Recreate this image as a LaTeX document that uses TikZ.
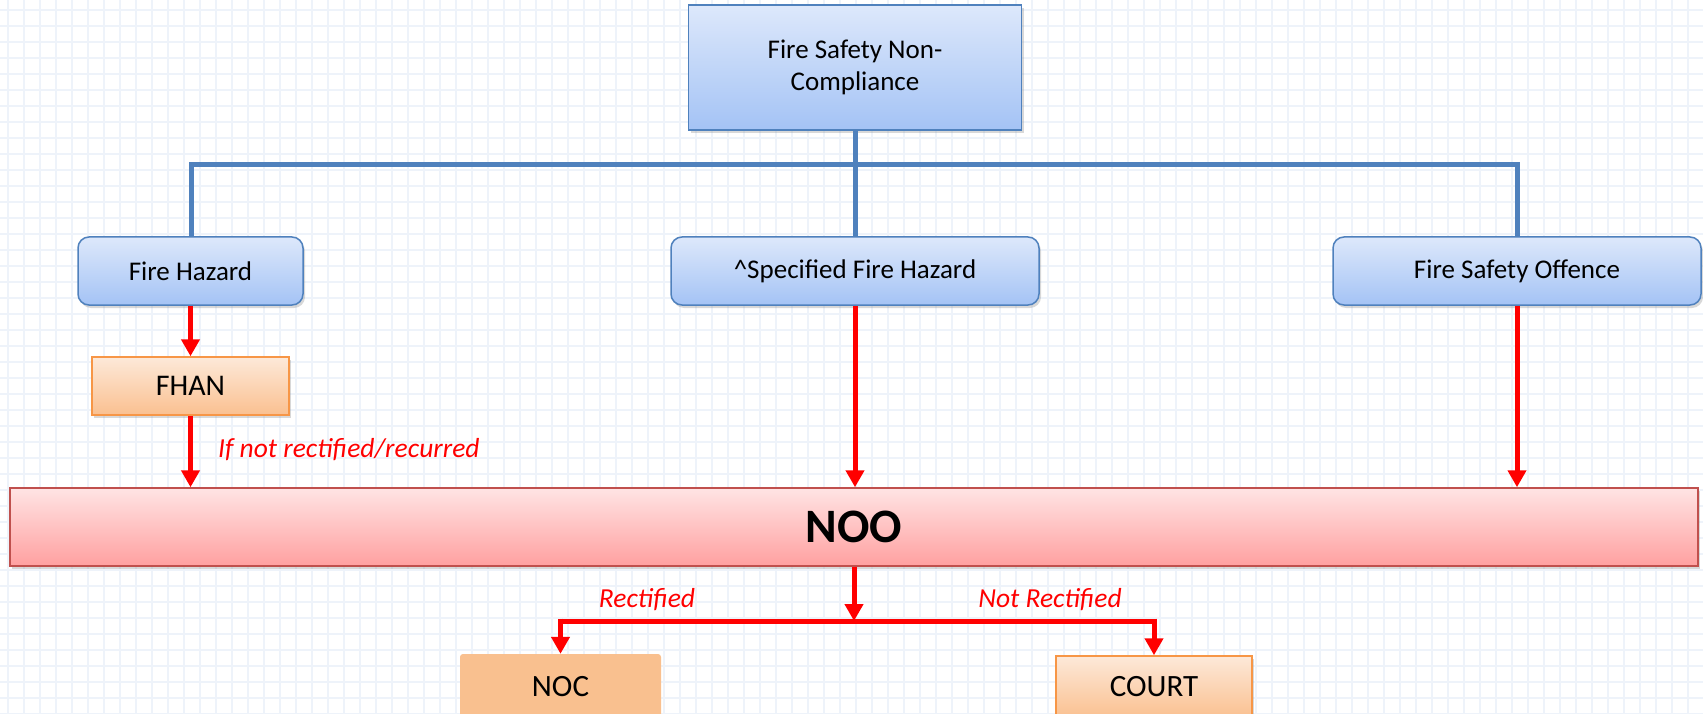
\documentclass[tikz,border=0pt]{standalone}
\usepackage{fontspec}
\setmainfont{Carlito}
\usetikzlibrary{arrows.meta,shadows}
\definecolor{gridc}{RGB}{238,243,250}
\definecolor{bluel}{RGB}{79,129,189}
\definecolor{bluetop}{RGB}{221,232,251}
\definecolor{bluebot}{RGB}{164,195,245}
\definecolor{orgdraw}{RGB}{247,150,70}
\definecolor{orgtop}{RGB}{253,233,217}
\definecolor{orgbot}{RGB}{250,192,144}
\definecolor{nocfill}{RGB}{249,192,143}
\definecolor{noodraw}{RGB}{192,80,77}
\definecolor{nootop}{RGB}{255,228,228}
\definecolor{noobot}{RGB}{255,160,160}
\definecolor{redc}{RGB}{255,0,0}
\tikzset{
  shad/.style={drop shadow={opacity=0.3,shadow xshift=2pt,shadow yshift=-3pt}},
  topbox/.style={shad,draw=bluel,line width=1.5pt,top color=bluetop,bottom color=bluebot,inner sep=0pt,align=center,font=\fontsize{27}{32}\selectfont},
  bluebox/.style={topbox,rounded corners=11pt},
  orgbox/.style={shad,draw=orgdraw,line width=1.5pt,top color=orgtop,bottom color=orgbot,inner sep=0pt,font=\fontsize{30}{34}\selectfont},
  nocbox/.style={fill=nocfill,rounded corners=3pt,inner sep=0pt,font=\fontsize{31}{34}\selectfont},
  noobox/.style={shad,draw=noodraw,line width=1.5pt,top color=nootop,bottom color=noobot,inner sep=0pt,font=\fontsize{48}{52}\selectfont\bfseries},
  blueline/.style={draw=bluel,line width=5pt},
  redarrow/.style={draw=redc,line width=5pt,-{Triangle[width=18pt,length=17pt]}},
  redline/.style={draw=redc,line width=5pt},
  lab/.style={text=redc,font=\fontsize{27.5}{30}\selectfont\itshape,inner sep=0pt},
}
\begin{document}
\begin{tikzpicture}[x=1pt,y=-1pt]
\useasboundingbox (0,0) rectangle (1703,714);
\fill[white] (0,0) rectangle (1703,714);
\foreach \gx in {8,24,...,1703} \draw[gridc,line width=1.2pt] (\gx,0) -- (\gx,714);
\foreach \gy in {10,26,...,714} \draw[gridc,line width=1.2pt] (0,\gy) -- (1703,\gy);

% blue connectors
\coordinate (hl) at (191,165);
\coordinate (hc) at (855,165);
\coordinate (hr) at (1517,165);

\node[topbox,minimum width=333pt,minimum height=125pt] (top) at (855,67.5) {Fire Safety Non-\\Compliance};
\draw[blueline] (top.south) -- (hc);
\draw[blueline] (hl) -- (hr);
\draw[blueline,line cap=rect] (hl) -- (191,237);
\draw[blueline] (hc) -- (855,237);
\draw[blueline,line cap=rect] (hr) -- (1517,237);

\node[bluebox,minimum width=225pt,minimum height=68pt] (fh) at (190.5,271) {Fire Hazard};
\node[bluebox,minimum width=368pt,minimum height=68pt] (sfh) at (855,271) {\^{}Specified Fire Hazard};
\node[bluebox,minimum width=368pt,minimum height=68pt] (fso) at (1517,271) {Fire Safety Offence};

\node[orgbox,minimum width=197pt,minimum height=58pt] (fhan) at (190.5,386) {FHAN};
\node[noobox,minimum width=1688pt,minimum height=78pt] (noo) at (854,527) {NOO};
\node[nocbox,minimum width=201pt,minimum height=66pt] (noc) at (560.5,687) {NOC};
\node[orgbox,font=\fontsize{31}{34}\selectfont,minimum width=196pt,minimum height=62pt] (court) at (1154,687) {COURT};

\draw[redarrow] (fh.south) -- (fhan.north);
\draw[redarrow] (fhan.south) -- (noo.north -| fhan.south);
\draw[redarrow] (sfh.south) -- (noo.north -| sfh.south);
\draw[redarrow] (fso.south) -- (noo.north -| fso.south);

\coordinate (br) at (854,621);
\draw[redarrow] (noo.south) -- (br);
\draw[redline] (br) -- (br -| noc.north);
\draw[redline] (br) -- (br -| court.north);
\draw[redarrow] ([yshift=2.5pt]br -| noc.north) -- (noc.north);
\draw[redarrow] ([yshift=2.5pt]br -| court.north) -- (court.north);

\node[lab,anchor=west] (l1) at (218,450) {If not rectified/recurred};
\node[lab] (l2) at (647,600) {Rectified};
\node[lab] (l3) at (1050,600) {Not Rectified};
\end{tikzpicture}
\end{document}
